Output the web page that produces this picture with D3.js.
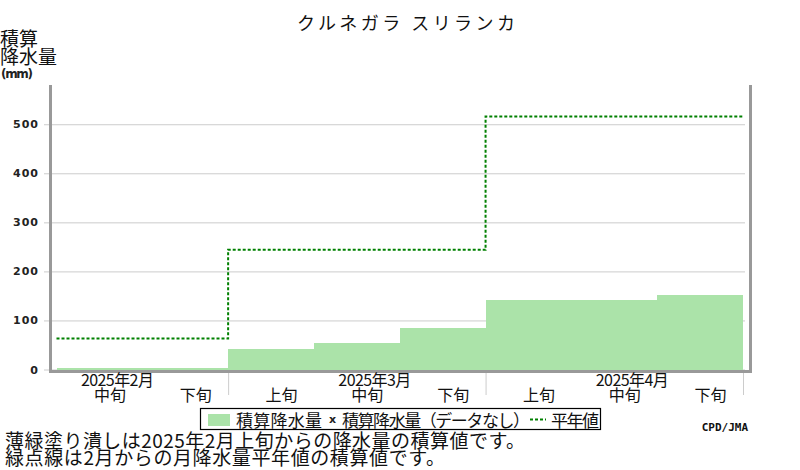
<!DOCTYPE html>
<html>
<head>
<meta charset="utf-8">
<script src="https://cdn.jsdelivr.net/npm/d3@7"></script>
<style>
  body { margin: 0; background: #fff; }
  text { font-family: "Noto Sans CJK JP", sans-serif; fill: #111; }
  .num { font-family: "DejaVu Sans", sans-serif; font-weight: bold; fill: #222; }
</style>
</head>
<body>
<svg id="chart"></svg>
<script>
// dekads shown on the x axis (Feb middle .. Apr last)
var dekads = ["中旬", "下旬", "上旬", "中旬", "下旬", "上旬", "中旬", "下旬"];
var months = ["2025年2月", "2025年3月", "2025年4月"];
var monthMid = [0, 3, 6];          // dekad index where the month label sits
var monthEnd = [2, 5, 8];          // dekad index where each month ends
// cumulative precipitation (mm), one value per dekad
var cumPrecip = [3, 4, 42, 54, 85, 142, 142, 151];
// cumulative monthly normals (mm) Feb, Mar, Apr
var normalCum = [63, 244, 516];
var yTicks = [0, 100, 200, 300, 400, 500];

var svg = d3.select("#chart").attr("width", 800).attr("height", 470);

var x = d3.scaleLinear().domain([0, dekads.length]).range([56.5, 743]);
var y = d3.scaleLinear().domain([0, 580]).range([369.5, 85]);

// title
svg.append("text")
    .attr("x", 406).attr("y", 30)
    .attr("text-anchor", "middle")
    .attr("font-size", 18)
    .attr("textLength", 218)
    .text("クルネガラ スリランカ");

// y label
svg.append("text").attr("x", 0).attr("y", 46).attr("font-size", 19).text("積算");
svg.append("text").attr("x", 0).attr("y", 64).attr("font-size", 19).text("降水量");
svg.append("text").attr("class", "num").attr("x", 1).attr("y", 78)
    .attr("font-size", 12).attr("textLength", 32).text("(mm)");

// grid + left ticks
var yAxis = svg.append("g")
    .attr("transform", "translate(745,0)")
    .call(d3.axisLeft(y).tickValues(yTicks).tickSize(701).tickPadding(5));
yAxis.select(".domain").remove();
yAxis.selectAll("line").attr("stroke", "#cccccc");
yAxis.selectAll("text")
    .attr("class", "num")
    .attr("font-size", 11)
    .attr("letter-spacing", 1)
    .style("font-family", "DejaVu Sans")
    .style("font-weight", "bold")
    .attr("fill", "#222");

// bars
svg.selectAll(".bar")
    .data(cumPrecip)
    .enter()
    .append("rect")
    .attr("class", "bar")
    .attr("x", function (d, i) { return x(i); })
    .attr("width", function (d, i) { return x(i + 1) - x(i) + (i < cumPrecip.length - 1 ? 0.6 : 0); })
    .attr("y", function (d) { return y(d); })
    .attr("height", function (d) { return y(0) - y(d); })
    .attr("shape-rendering", "crispEdges")
    .attr("fill", "#abe3a9");

// normal line (step)
var normPts = [[0, normalCum[0]]];
normalCum.forEach(function (v, i) {
    if (i > 0) normPts.push([monthEnd[i - 1], v]);
});
normPts.push([monthEnd[monthEnd.length - 1], normalCum[normalCum.length - 1]]);

svg.append("path")
    .datum(normPts)
    .attr("d", d3.line()
        .x(function (d) { return x(d[0]); })
        .y(function (d) { return y(d[1]); })
        .curve(d3.curveStepAfter))
    .attr("fill", "none")
    .attr("stroke", "#008000")
    .attr("stroke-width", 2)
    .attr("stroke-dasharray", "3,2");

// frame
svg.append("rect").attr("x", 49).attr("y", 85).attr("width", 3).attr("height", 288).attr("fill", "#999");
svg.append("rect").attr("x", 749).attr("y", 85).attr("width", 3).attr("height", 288).attr("fill", "#999");
svg.append("rect").attr("x", 49).attr("y", 370).attr("width", 703).attr("height", 3).attr("fill", "#999");

// month boundary ticks
var xAxis = svg.append("g")
    .attr("transform", "translate(0,373)")
    .call(d3.axisBottom(x).tickValues(monthEnd).tickSize(22).tickFormat(""));
xAxis.select(".domain").remove();
xAxis.selectAll("line").attr("stroke", "#cccccc");

// dekad labels
svg.selectAll(".dek")
    .data(dekads)
    .enter()
    .append("text")
    .attr("class", "dek")
    .attr("x", function (d, i) { return x(i + 0.5) + 10.5; })
    .attr("y", 401)
    .attr("text-anchor", "middle")
    .attr("font-size", 16)
    .attr("fill", "#222")
    .text(function (d) { return d; });

// month labels
svg.selectAll(".mon")
    .data(months)
    .enter()
    .append("text")
    .attr("class", "mon")
    .attr("x", function (d, i) { return x(monthMid[i] + 0.5) + 18; })
    .attr("y", 386)
    .attr("text-anchor", "middle")
    .attr("font-size", 16)
    .attr("textLength", 73)
    .attr("fill", "#222")
    .text(function (d) { return d; });

// legend
var lg = svg.append("g");
lg.append("rect").attr("x", 200.5).attr("y", 408.5).attr("width", 400).attr("height", 21)
    .attr("fill", "#fff").attr("stroke", "#000").attr("stroke-width", 1.2);
lg.append("rect").attr("x", 208).attr("y", 414).attr("width", 22).attr("height", 12).attr("fill", "#abe3a9");
lg.append("text").attr("x", 236).attr("y", 427).attr("font-size", 17).attr("textLength", 86).text("積算降水量");
lg.append("text").attr("class", "num").attr("x", 329).attr("y", 423).attr("font-size", 11).text("x");
lg.append("text").attr("x", 342).attr("y", 427).attr("font-size", 17).attr("textLength", 188).text("積算降水量（データなし）");
lg.append("line").attr("x1", 530).attr("x2", 546).attr("y1", 419.5).attr("y2", 419.5)
    .attr("stroke", "#008000").attr("stroke-width", 2).attr("stroke-dasharray", "3,2");
lg.append("text").attr("x", 551).attr("y", 427).attr("font-size", 17).attr("textLength", 48).text("平年値");

// credit
svg.append("text")
    .attr("x", 748).attr("y", 431)
    .attr("text-anchor", "end")
    .attr("font-size", 11)
    .style("font-family", "DejaVu Sans Mono")
    .style("font-weight", "bold")
    .attr("fill", "#222")
    .text("CPD/JMA");

// notes
svg.append("text").attr("x", 5).attr("y", 448).attr("font-size", 19).attr("textLength", 520)
    .text("薄緑塗り潰しは2025年2月上旬からの降水量の積算値です。");
svg.append("text").attr("x", 5).attr("y", 465).attr("font-size", 19).attr("textLength", 440)
    .text("緑点線は2月からの月降水量平年値の積算値です。");
</script>
</body>
</html>
